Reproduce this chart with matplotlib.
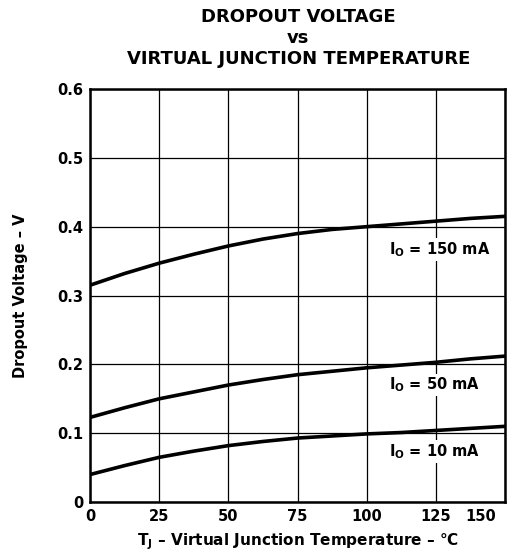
import numpy as np
import matplotlib.pyplot as plt
import matplotlib.transforms as mtransforms

plt.rcParams['font.family'] = ['DejaVu Sans']
plt.rcParams['font.weight'] = 'bold'
plt.rcParams['mathtext.fontset'] = 'custom'
plt.rcParams['mathtext.rm'] = 'DejaVu Sans:bold'
plt.rcParams['mathtext.it'] = 'DejaVu Sans:bold'
plt.rcParams['mathtext.default'] = 'rm'

# Junction temperature (°C) and dropout voltage (V)
temp = [0, 12.5, 25, 37.5, 50, 62.5, 75, 87.5, 100, 112.5, 125, 137.5, 150]
v_150 = [0.315, 0.332, 0.347, 0.360, 0.372, 0.382, 0.390, 0.396, 0.400, 0.404, 0.408, 0.412, 0.415]
v_50 = [0.123, 0.137, 0.150, 0.160, 0.170, 0.178, 0.185, 0.190, 0.195, 0.199, 0.203, 0.208, 0.212]
v_10 = [0.040, 0.053, 0.065, 0.074, 0.082, 0.088, 0.093, 0.096, 0.099, 0.101, 0.104, 0.107, 0.110]

labels = [r'I$_{O}$ = 150 mA', r'I$_{O}$ = 50 mA', r'I$_{O}$ = 10 mA']
label_y = [0.367, 0.170, 0.073]

fig = plt.figure(figsize=[5.3, 5.56], dpi=100)
ax = fig.add_axes([0.170, 0.097, 0.783, 0.743])

for v in [v_150, v_50, v_10]:
    ax.plot(temp, v, color='black', lw=2.6, solid_capstyle='butt')

for lab, y in zip(labels, label_y):
    ax.text(108, y, lab, fontsize=10.5, fontweight='bold', va='center', ha='left',
            bbox=dict(facecolor='white', edgecolor='none', pad=1.5))

ax.set_xlim(0, 150)
ax.set_ylim(0, 0.6)
ax.set_xticks(np.arange(0, 151, 25))
ax.set_yticks(np.arange(0, 0.61, 0.1))
ax.set_yticklabels(['0', '0.1', '0.2', '0.3', '0.4', '0.5', '0.6'])
ax.tick_params(length=0, labelsize=10.5, pad=5)
for lab in ax.get_xticklabels() + ax.get_yticklabels():
    lab.set_fontweight('bold')
last = ax.get_xticklabels()[-1]
last.set_transform(last.get_transform() + mtransforms.ScaledTranslation(-24 / 100, 0, fig.dpi_scale_trans))
ax.grid(True, color='black', lw=0.9)
for s in ax.spines.values():
    s.set_linewidth(1.8)

ax.set_xlabel(r'T$_{J}$ – Virtual Junction Temperature – °C', fontsize=11, fontweight='bold', labelpad=5)
ax.set_ylabel('Dropout Voltage – V', fontsize=10.5, fontweight='bold', labelpad=21)
fig.text(0.563, 0.985, 'DROPOUT VOLTAGE\nvs\nVIRTUAL JUNCTION TEMPERATURE', ha='center', va='top',
         fontsize=13, fontweight='bold', linespacing=1.2)

fig.savefig('out.png', dpi=100)
